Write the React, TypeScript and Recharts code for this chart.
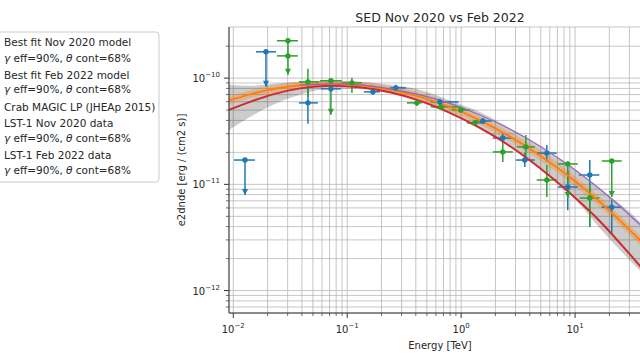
import React from "react";
import { ComposedChart, XAxis, YAxis, CartesianGrid, Area, Line, Scatter, ErrorBar } from "recharts";

const FONT = "'DejaVu Sans', sans-serif";
const UNIT = 1e-10; // flux arrays below are in units of 1e-10 erg/(cm2 s)

// model curves, energies in TeV
const modelEnergy = [0.00917, 0.014, 0.0232, 0.0385, 0.0705, 0.129, 0.237, 0.435, 0.796, 1.46, 2.67, 4.9, 8.98, 16.5, 30.2, 55.3];
const nov2020Model = [0.502, 0.598, 0.711, 0.801, 0.846, 0.819, 0.735, 0.611, 0.471, 0.34, 0.2298, 0.1425, 0.0828, 0.045, 0.022, 0.01029];
const feb2022Model = [0.617, 0.703, 0.793, 0.855, 0.884, 0.855, 0.776, 0.666, 0.536, 0.4, 0.2825, 0.187, 0.1172, 0.0681, 0.0371, 0.0193];
const crabMagicLP = [null, null, null, 0.855, 0.884, 0.865, 0.793, 0.696, 0.578, 0.45, 0.332, 0.2298, 0.1488, 0.0903, 0.0513, 0.0279];
const errBandHi = [0.865, 0.846, 0.884, 0.923, 0.943, 0.923, 0.865, 0.776, 0.617, 0.481, 0.34, 0.2298, 0.1488, 0.0903, 0.0548, 0.0279];
const errBandLo = [0.325, 0.431, 0.572, 0.696, 0.793, 0.793, 0.727, 0.611, 0.471, 0.332, 0.2298, 0.1425, 0.0828, 0.0387, 0.0193, 0.01006];
const febBandHi = [0.674, 0.767, 0.865, 0.923, 0.943, 0.923, 0.837, 0.727, 0.585, 0.436, 0.311, 0.2107, 0.1306, 0.0759, 0.0413, 0.0215];
const febBandLo = [0.566, 0.645, 0.727, 0.784, 0.828, 0.793, 0.719, 0.611, 0.491, 0.367, 0.256, 0.1696, 0.1051, 0.0611, 0.0332, 0.01733];

// LST-1 Nov 2020 flux points
const novE = [0.01267, 0.01936, 0.0452, 0.0719, 0.168, 0.267, 0.65, 1.549, 2.32, 3.62, 5.65, 8.63, 13.46, 20.99];
const novELo = [0.01014, 0.0158, 0.0377, 0.0587, 0.14, 0.237, 0.542, 1.318, 1.897, 3.02, 4.61, 7.05, 10.8, 17.14];
const novEHi = [0.01549, 0.0237, 0.0553, 0.0881, 0.1937, 0.327, 0.955, 1.858, 2.84, 4.43, 6.9, 10.57, 16.33, 25.7];
const novFlux = [0.1694, 1.77, 0.585, 0.793, 0.743, 0.81, 0.598, 0.395, 0.273, 0.1694, 0.197, 0.0944, 0.1225, 0.061];
const novFluxLo = [0.0793, 0.828, 0.373, 0.743, 0.696, 0.76, 0.56, 0.371, 0.245, 0.1456, 0.162, 0.0572, 0.0396, 0.0347];
const novFluxHi = [0.1694, 1.77, 0.798, 0.846, 0.793, 0.865, 0.638, 0.422, 0.305, 0.197, 0.235, 0.1334, 0.1694, 0.071];
const novUL = [true, true, false, false, false, false, false, false, false, false, false, false, false, false];

// LST-1 Feb 2022 flux points
const febE = [0.0302, 0.0302, 0.0452, 0.0719, 0.11, 0.408, 0.664, 0.993, 1.318, 2.32, 3.7, 5.65, 8.63, 13.46, 20.99];
const febELo = [0.02415, 0.02415, 0.0377, 0.0575, 0.0898, 0.334, 0.542, 0.828, 1.122, 1.897, 3.08, 4.61, 7.05, 10.97, 17.14];
const febEHi = [0.0369, 0.0369, 0.0565, 0.0897, 0.1346, 0.452, 0.973, 1.19, 1.614, 2.84, 4.43, 6.9, 10.57, 16.33, 25.7];
const febFlux = [2.25, 1.62, 0.923, 0.944, 0.903, 0.585, 0.536, 0.502, 0.379, 0.202, 0.225, 0.1099, 0.1556, 0.0743, 0.166];
const febFluxLo = [1.62, 1.074, 0.667, 0.451, 0.726, 0.548, 0.502, 0.471, 0.355, 0.162, 0.162, 0.0759, 0.0743, 0.0396, 0.0759];
const febFluxHi = [2.25, 1.62, 1.224, 0.944, 1.007, 0.625, 0.572, 0.536, 0.404, 0.251, 0.292, 0.152, 0.1556, 0.0984, 0.166];
const febUL = [false, true, false, true, false, false, false, false, false, false, false, false, true, false, true];

const xTicks = [0.01, 0.02, 0.03, 0.04, 0.05, 0.06, 0.07, 0.08, 0.09, 0.1, 0.2, 0.3, 0.4, 0.5, 0.6, 0.7, 0.8, 0.9, 1, 2, 3, 4, 5, 6, 7, 8, 9, 10, 20, 30, 40];
const yTicks = [7e-13, 8e-13, 9e-13, 1e-12, 2e-12, 3e-12, 4e-12, 5e-12, 6e-12, 7e-12, 8e-12, 9e-12, 1e-11, 2e-11, 3e-11, 4e-11, 5e-11, 6e-11, 7e-11, 8e-11, 9e-11, 1e-10, 2e-10];

const legendLines = [
  { text: "Best fit Nov 2020 model", y: 46 },
  { text: "gamma", y: 61.5 },
  { text: "Best fit Feb 2022 model", y: 78.5 },
  { text: "gamma", y: 93 },
  { text: "Crab MAGIC LP (JHEAp 2015)", y: 111 },
  { text: "LST-1 Nov 2020 data", y: 127 },
  { text: "gamma", y: 142 },
  { text: "LST-1 Feb 2022 data", y: 158.5 },
  { text: "gamma", y: 174 },
];

const modelData = modelEnergy.map((e, i) => ({
  e,
  nov: nov2020Model[i] * UNIT,
  feb: feb2022Model[i] * UNIT,
  crab: crabMagicLP[i] == null ? null : (crabMagicLP[i] as number) * UNIT,
  band: [errBandLo[i] * UNIT, errBandHi[i] * UNIT],
  febBand: [febBandLo[i] * UNIT, febBandHi[i] * UNIT],
}));

function buildPoints(E: number[], ELo: number[], EHi: number[], F: number[], FLo: number[], FHi: number[]) {
  return E.map((e, i) => ({
    e,
    v: F[i] * UNIT,
    ex: [e - ELo[i], EHi[i] - e],
    ey: [(F[i] - FLo[i]) * UNIT, (FHi[i] - F[i]) * UNIT],
  }));
}

function buildArrows(E: number[], FLo: number[], UL: boolean[]) {
  return E.map((e, i) => ({ e, v: FLo[i] * UNIT, ul: UL[i] })).filter((d) => d.ul);
}

const novPoints = buildPoints(novE, novELo, novEHi, novFlux, novFluxLo, novFluxHi);
const febPoints = buildPoints(febE, febELo, febEHi, febFlux, febFluxLo, febFluxHi);
const novArrows = buildArrows(novE, novFluxLo, novUL);
const febArrows = buildArrows(febE, febFluxLo, febUL);

const BLUE = "#1f77b4";
const GREEN = "#2ca02c";

const isMajor = (v: number) => Math.abs(Math.log10(v) - Math.round(Math.log10(v))) < 1e-6;
const expLabel = (v: number) => {
  const n = Math.round(Math.log10(v));
  return n < 0 ? "\u2212" + Math.abs(n) : String(n);
};

function XTick(props: any) {
  const { x, y, payload } = props;
  const major = isMajor(payload.value);
  return (
    <g>
      <line x1={x} x2={x} y1={y} y2={y + (major ? 5 : 3)} stroke="#333" strokeWidth={major ? 1 : 0.7} />
      {major && (
        <text x={x} y={y + 20} textAnchor="middle" fontFamily={FONT} fontSize={10} fill="#262626">
          10<tspan dy={-5} fontSize={7}>{expLabel(payload.value)}</tspan>
        </text>
      )}
    </g>
  );
}

function YTick(props: any) {
  const { x, y, payload } = props;
  const major = isMajor(payload.value);
  return (
    <g>
      <line x1={x - (major ? 5 : 3)} x2={x} y1={y} y2={y} stroke="#333" strokeWidth={major ? 1 : 0.7} />
      {major && (
        <text x={x - 9} y={y + 4} textAnchor="end" fontFamily={FONT} fontSize={10} fill="#262626">
          10<tspan dy={-5} fontSize={7}>{expLabel(payload.value)}</tspan>
        </text>
      )}
    </g>
  );
}

const dot = (color: string) => (p: any) => <circle cx={p.cx} cy={p.cy} r={2.7} fill={color} />;
const arrow = (color: string) => (p: any) => (
  <path d={`M${p.cx - 3},${p.cy - 6} L${p.cx + 3},${p.cy - 6} L${p.cx},${p.cy} Z`} fill={color} />
);

export default function App() {
  return (
    <div style={{ position: "absolute", left: 0, top: 0, width: 640, height: 360, overflow: "hidden", background: "#fff" }}>
      <ComposedChart width={660} height={360} data={modelData} margin={{ top: 27, right: 9, bottom: 0, left: 0 }}>
        <CartesianGrid stroke="#b8b8b8" strokeWidth={0.8} />
        <XAxis
          dataKey="e"
          type="number"
          scale="log"
          domain={[0.00917, 46.4]}
          allowDataOverflow
          ticks={xTicks}
          tick={<XTick />}
          tickLine={false}
          tickSize={0}
          tickMargin={0}
          height={47}
          axisLine={{ stroke: "#333" }}
          interval={0}
        />
        <XAxis
          xAxisId="top"
          orientation="top"
          dataKey="e"
          type="number"
          scale="log"
          domain={[0.00917, 46.4]}
          allowDataOverflow
          height={0}
          tick={false}
          tickLine={false}
          axisLine={{ stroke: "#333" }}
        />
        <YAxis
          dataKey="v"
          type="number"
          scale="log"
          domain={[6.15e-13, 3.03e-10]}
          allowDataOverflow
          ticks={yTicks}
          tick={<YTick />}
          tickLine={false}
          tickSize={0}
          tickMargin={0}
          width={229}
          axisLine={{ stroke: "#333" }}
          interval={0}
        />

        <Scatter data={novPoints} fill={BLUE} shape={dot(BLUE)} isAnimationActive={false}>
          <ErrorBar dataKey="ex" direction="x" width={0} stroke={BLUE} strokeWidth={1.5} isAnimationActive={false} />
          <ErrorBar dataKey="ey" direction="y" width={0} stroke={BLUE} strokeWidth={1.5} isAnimationActive={false} />
        </Scatter>
        <Scatter data={novArrows} fill={BLUE} shape={arrow(BLUE)} isAnimationActive={false} />
        <Scatter data={febPoints} fill={GREEN} shape={dot(GREEN)} isAnimationActive={false}>
          <ErrorBar dataKey="ex" direction="x" width={0} stroke={GREEN} strokeWidth={1.5} isAnimationActive={false} />
          <ErrorBar dataKey="ey" direction="y" width={0} stroke={GREEN} strokeWidth={1.5} isAnimationActive={false} />
        </Scatter>
        <Scatter data={febArrows} fill={GREEN} shape={arrow(GREEN)} isAnimationActive={false} />

        <Area dataKey="band" type="monotone" stroke="none" fill="#000" fillOpacity={0.2} isAnimationActive={false} />
        <Area dataKey="febBand" type="monotone" stroke="none" fill="#ff7f0e" fillOpacity={0.3} isAnimationActive={false} />
        <Line dataKey="nov" type="monotone" stroke="#d62728" strokeWidth={2} dot={false} isAnimationActive={false} />
        <Line dataKey="feb" type="monotone" stroke="#ff7f0e" strokeWidth={2} dot={false} isAnimationActive={false} />
        <Line dataKey="crab" type="monotone" stroke="#9467bd" strokeWidth={1.3} dot={false} isAnimationActive={false} />
      </ComposedChart>

      <svg width={640} height={360} style={{ position: "absolute", left: 0, top: 0, pointerEvents: "none" }}>
        <text x={440} y={21.5} textAnchor="middle" fontFamily={FONT} fontSize={12.5} fill="#262626">
          SED Nov 2020 vs Feb 2022
        </text>
        <text x={440} y={349} textAnchor="middle" fontFamily={FONT} fontSize={10} fill="#262626">
          Energy [TeV]
        </text>
        <text transform="translate(184.5,170) rotate(-90)" textAnchor="middle" fontFamily={FONT} fontSize={10} fill="#262626">
          e2dnde [erg / (cm2 s)]
        </text>

        <rect x={-6} y={32} width={165} height={150} rx={3} fill="#fff" fillOpacity={0.8} stroke="#cccccc" />
        {legendLines.map((l, i) =>
          l.text === "gamma" ? (
            <text key={i} x={4} y={l.y} fontFamily={FONT} fontSize={10.5} fill="#262626">
              <tspan fontStyle="italic">γ</tspan> eff=90%, <tspan fontStyle="italic">θ</tspan> cont=68%
            </text>
          ) : (
            <text key={i} x={4} y={l.y} fontFamily={FONT} fontSize={10.5} fill="#262626">
              {l.text}
            </text>
          )
        )}
      </svg>
    </div>
  );
}
